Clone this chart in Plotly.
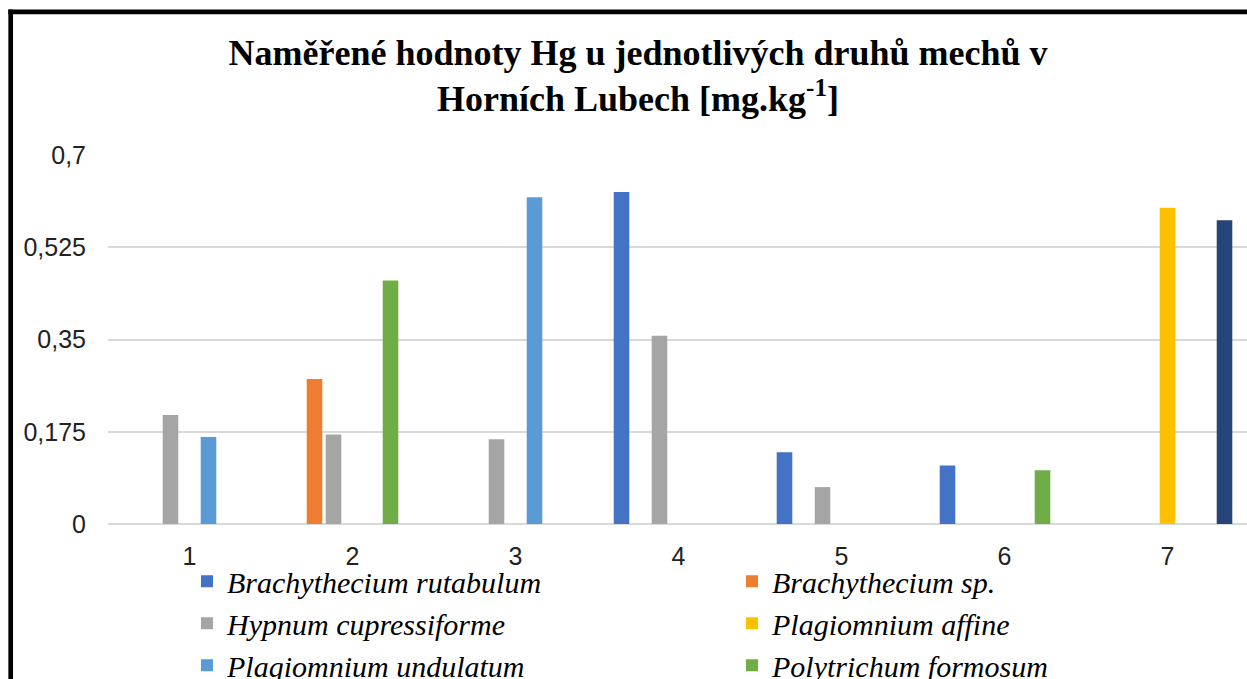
import plotly.graph_objects as go

categories = ["1", "2", "3", "4", "5", "6", "7"]
series_names = [
    "Brachythecium rutabulum",
    "Brachythecium sp.",
    "Hypnum cupressiforme",
    "Plagiomnium affine",
    "Plagiomnium undulatum",
    "Polytrichum formosum",
    "Pleurozium schreberi",
]
brachythecium_rutabulum = [None, None, None, 0.630, 0.136, 0.111, None]
brachythecium_sp = [None, 0.275, None, None, None, None, None]
hypnum_cupressiforme = [0.207, 0.170, 0.161, 0.357, 0.070, None, None]
plagiomnium_affine = [None, None, None, None, None, None, 0.600]
plagiomnium_undulatum = [0.165, None, 0.620, None, None, None, None]
polytrichum_formosum = [None, 0.462, None, None, None, 0.102, None]
series7 = [None, None, None, None, None, None, 0.576]
tick_vals = [0, 0.175, 0.35, 0.525, 0.7]
tick_text = ["0", "0,175", "0,35", "0,525", "0,7"]

all_values = [brachythecium_rutabulum, brachythecium_sp, hypnum_cupressiforme,
              plagiomnium_affine, plagiomnium_undulatum, polytrichum_formosum, series7]
colors = ["#4472C4", "#ED7D31", "#A5A5A5", "#FFC000", "#5B9BD5", "#70AD47", "#264478"]
legend_ids = ["legend", "legend2", "legend", "legend2", "legend", "legend2", None]

# figure placed at the page origin (body margin removed below)
W, H = 1249, 700
ML, MT = 108, 155
MR = 0
MB = H - 524.3
PW, PH = W - ML - MR, H - MT - MB

def px_x(x):
    return (x - ML) / PW

def px_y(y):
    return (H - MB - y) / PH

fig = go.Figure()
for name, vals, col, lg in zip(series_names, all_values, colors, legend_ids):
    fig.add_trace(go.Bar(x=categories, y=vals, name=name,
                         marker=dict(color=col, line=dict(width=0)),
                         showlegend=lg is not None, legend=lg or "legend"))

legend_font = dict(family="Liberation Serif", size=30, color="black", style="italic")
LEG_TOP = 555.7
tick_font = dict(family="Liberation Sans", size=25, color="#222222")

fig.update_layout(
    width=W, height=H,
    margin=dict(l=ML, r=MR, t=MT, b=MB, pad=0, autoexpand=False),
    paper_bgcolor="white", plot_bgcolor="white",
    barmode="group", bargap=0.184, bargroupgap=0.18,
    separators=",.",
    title=dict(
        text="Naměřené hodnoty Hg u jednotlivých druhů mechů v<br>Horních Lubech [mg.kg<sup>-1</sup>]",
        font=dict(family="Liberation Serif", size=36, color="black", weight="bold"),
        x=638 / W, xanchor="center", xref="container",
        y=1 - 64.5 / H, yanchor="middle", yref="container",
    ),
    xaxis=dict(
        type="category", showgrid=False, showline=False, ticks="",
        tickfont=tick_font, ticklabelstandoff=15,
    ),
    yaxis=dict(
        range=[0, 0.7], tickvals=tick_vals, ticktext=tick_text,
        showgrid=True, gridcolor="#D9D9D9", gridwidth=2,
        zeroline=True, zerolinecolor="#D9D9D9", zerolinewidth=2,
        showline=False, ticks="",
        tickfont=tick_font, ticklabelstandoff=21,
    ),
    legend=dict(
        orientation="v", x=px_x(187), xanchor="left", y=px_y(LEG_TOP), yanchor="top",
        font=legend_font, traceorder="normal", bgcolor="rgba(0,0,0,0)",
    ),
    legend2=dict(
        orientation="v", x=px_x(732), xanchor="left", y=px_y(LEG_TOP), yanchor="top",
        font=legend_font, traceorder="normal", bgcolor="rgba(0,0,0,0)",
    ),
    shapes=[
        dict(type="line", xref="paper", yref="paper", x0=px_x(10.7), x1=px_x(10.7), y0=px_y(9.4), y1=px_y(H + 20),
             line=dict(color="black", width=4.7)),
        dict(type="line", xref="paper", yref="paper", x0=px_x(8.35), x1=px_x(W + 20), y0=px_y(11.7), y1=px_y(11.7),
             line=dict(color="black", width=4.7)),
    ],
)

fig.write_html(
    "out.html",
    config={"displayModeBar": False},
    post_script=("document.body.style.margin='0';"
                 "document.documentElement.style.overflow='hidden';"
                 "document.body.style.overflow='hidden';"),
)
